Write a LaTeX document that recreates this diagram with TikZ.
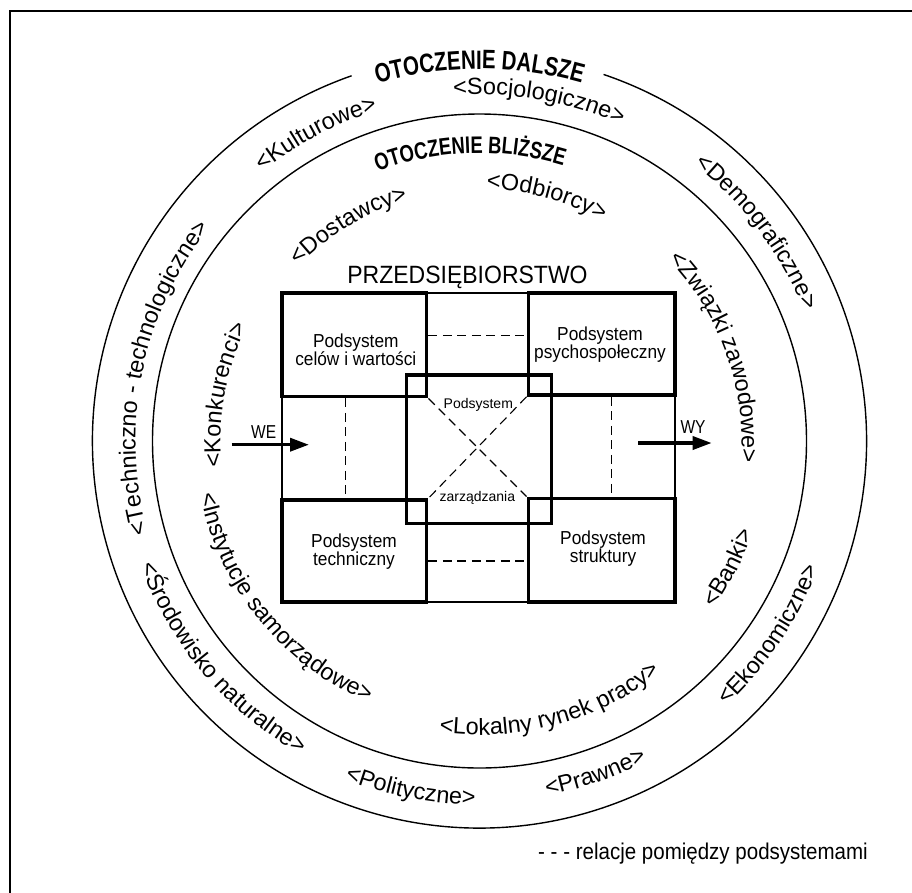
\documentclass[tikz,border=0pt]{standalone}
\usepackage{fontspec}
\setmainfont{Liberation Sans}
\newfontfamily\ttlfont[FakeStretch=0.77]{Liberation Sans}
\newfontfamily\medfont[FakeStretch=0.92]{Liberation Sans}
\newfontfamily\legfont[FakeStretch=0.9]{Liberation Sans}
\newfontfamily\iofont[FakeStretch=0.83]{Liberation Sans}
\usetikzlibrary{decorations.text,arrows.meta}
\newcommand{\lblf}{\fontsize{23.4}{23.4}\selectfont}
\newcommand{\ttlA}{\ttlfont\bfseries\fontsize{26.6}{26.6}\selectfont}
\newcommand{\ttlB}{\ttlfont\bfseries\fontsize{23.9}{23.9}\selectfont}
\newcommand{\arclabel}[5]{%
  \path[decorate,decoration={text along path,text align=center,text={|#4|#5}}]
    (#1:#3) arc[start angle=#1,end angle=#2,radius=#3];}
\begin{document}
\begin{tikzpicture}[x=1pt,y=-1pt,
  framelines/.style={line width=2.2pt},
  ring/.style={line width=1.4pt},
  firmbox/.style={draw,line width=1.2pt,inner sep=0pt},
  cornerbox/.style={draw,line width=3.5pt,inner sep=0pt},
  boxtext/.style={font=\medfont\fontsize{18.8}{18.3}\selectfont,align=center,inner sep=0pt},
  smalltext/.style={font=\fontsize{14}{14}\selectfont,inner sep=0pt,anchor=base},
  iotext/.style={font=\iofont\fontsize{18.7}{18.7}\selectfont,inner sep=0pt},
  reldash/.style={line width=1.1pt,dash pattern=on 9pt off 5.5pt},
  bigarrow/.style={line width=3.5pt,-{Triangle[length=19pt,width=13pt]}}]
\useasboundingbox (0,0) rectangle (912,892);
\fill[white] (0,0) rectangle (912,892);
% frame (cropped)
\coordinate (fbl) at (10,893);
\coordinate (ftl) at (10,11);
\coordinate (ftr) at (913,11);
\draw[framelines] (fbl) -- (ftl) -- (ftr);

% enterprise
\node[anchor=base,inner sep=0pt,font=\medfont\fontsize{25}{25}\selectfont] (przed) at (467.5,283.3) {PRZEDSIĘBIORSTWO};
\node[firmbox,minimum width=393pt,minimum height=309pt] (firm) at (478.5,447.5) {};
\node[cornerbox,minimum width=144.7pt,minimum height=103.7pt] (tl) at (354.35,344.85) {};
\node[cornerbox,minimum width=146.7pt,minimum height=102pt] (tr) at (601.65,344) {};
\node[cornerbox,minimum width=144.7pt,minimum height=102pt] (bl) at (354.35,551) {};
\node[cornerbox,minimum width=146.7pt,minimum height=103.7pt] (br) at (601.65,550.15) {};
\node[cornerbox,minimum width=145pt,minimum height=148.3pt] (cbox) at (479.2,449.2) {};

\node[boxtext] (tlt) at (355.8,349.5) {Podsystem\\celów i wartości};
\node[boxtext] (trt) at (600,344.7) {Podsystem\\psychospołeczny};
\node[boxtext] (blt) at (354,551.4) {Podsystem\\techniczny};
\node[boxtext] (brt) at (603,548.8) {Podsystem\\struktury};
\node[smalltext] (ct1) at (478.3,408.3) {Podsystem};
\node[smalltext] (ct2) at (477.3,501.7) {zarządzania};

% relations
\draw[reldash] ([yshift=9.5pt]tl.east) -- ([yshift=9.5pt]tl.east -| tr.west);
\draw[reldash] ([yshift=-10pt]bl.east) -- ([yshift=-10pt]bl.east -| br.west);
\draw[reldash] ([xshift=-8.5pt]tl.south) -- ([xshift=-8.5pt]tl.south |- bl.north);
\draw[reldash] ([xshift=10pt]tr.south) -- ([xshift=10pt]tr.south |- br.north);
\draw[reldash] (tl.south east) -- (br.north west);
\draw[reldash] (tr.south west) -- (bl.north east);

% input / output
\coordinate (we0) at (231.7,444.7);
\coordinate (we1) at (309,444.7);
\coordinate (wy0) at (638,443);
\coordinate (wy1) at (711.7,443);
\draw[bigarrow] (we0) -- (we1);
\draw[bigarrow] (wy0) -- (wy1);
\node[iotext] (we) at (263.7,432.4) {WE};
\node[iotext] (wy) at (693,427) {WY};

% environment rings
\begin{scope}[shift={(479.5,441)},y=1pt]
  \coordinate (C) at (0,0);
  \draw[ring] (109.3:387) arc[start angle=109.3,end angle=431.3,radius=387];
  \draw[ring] (C) circle[radius=327];
  % titles
  \arclabel{135}{45}{372}{\ttlA}{OTOCZENIE DALSZE}
  \arclabel{136.9}{46.9}{288}{\ttlB}{OTOCZENIE BLIŻSZE}
  % outer ring
  \arclabel{163}{73}{346}{\lblf}{<Kulturowe>}
  \arclabel{125.1}{35.1}{346.5}{\lblf}{<Socjologiczne>}
  \arclabel{82}{-8}{350}{\lblf}{<Demograficzne>}
  \arclabel{213.6}{123.6}{344}{\lblf}{<Techniczno - technologiczne>}
  \arclabel{175.2}{265.2}{361}{\lblf}{<Środowisko naturalne>}
  \arclabel{213.8}{303.8}{364}{\lblf}{<Polityczne>}
  \arclabel{244.2}{334.2}{361}{\lblf}{<Prawne>}
  \arclabel{281.25}{371.25}{362}{\lblf}{<Ekonomiczne>}
  % inner ring
  \arclabel{166.2}{76.2}{251.5}{\lblf}{<Dostawcy>}
  \arclabel{119.65}{29.65}{252}{\lblf}{<Odbiorcy>}
  \arclabel{64.65}{-25.35}{262}{\lblf}{<Związki zawodowe>}
  \arclabel{214.75}{124.75}{259}{\lblf}{<Konkurenci>}
  \arclabel{173.85}{263.85}{284}{\lblf}{<Instytucje samorządowe>}
  \arclabel{240.05}{330.05}{294}{\lblf}{<Lokalny rynek pracy>}
  \arclabel{288.05}{378.05}{288}{\lblf}{<Banki>}
\end{scope}

% legend
\node[anchor=base west,inner sep=0pt,font=\legfont\fontsize{22.8}{22.8}\selectfont] (leg) at (538,859) {- - - relacje pomiędzy podsystemami};
\end{tikzpicture}
\end{document}
